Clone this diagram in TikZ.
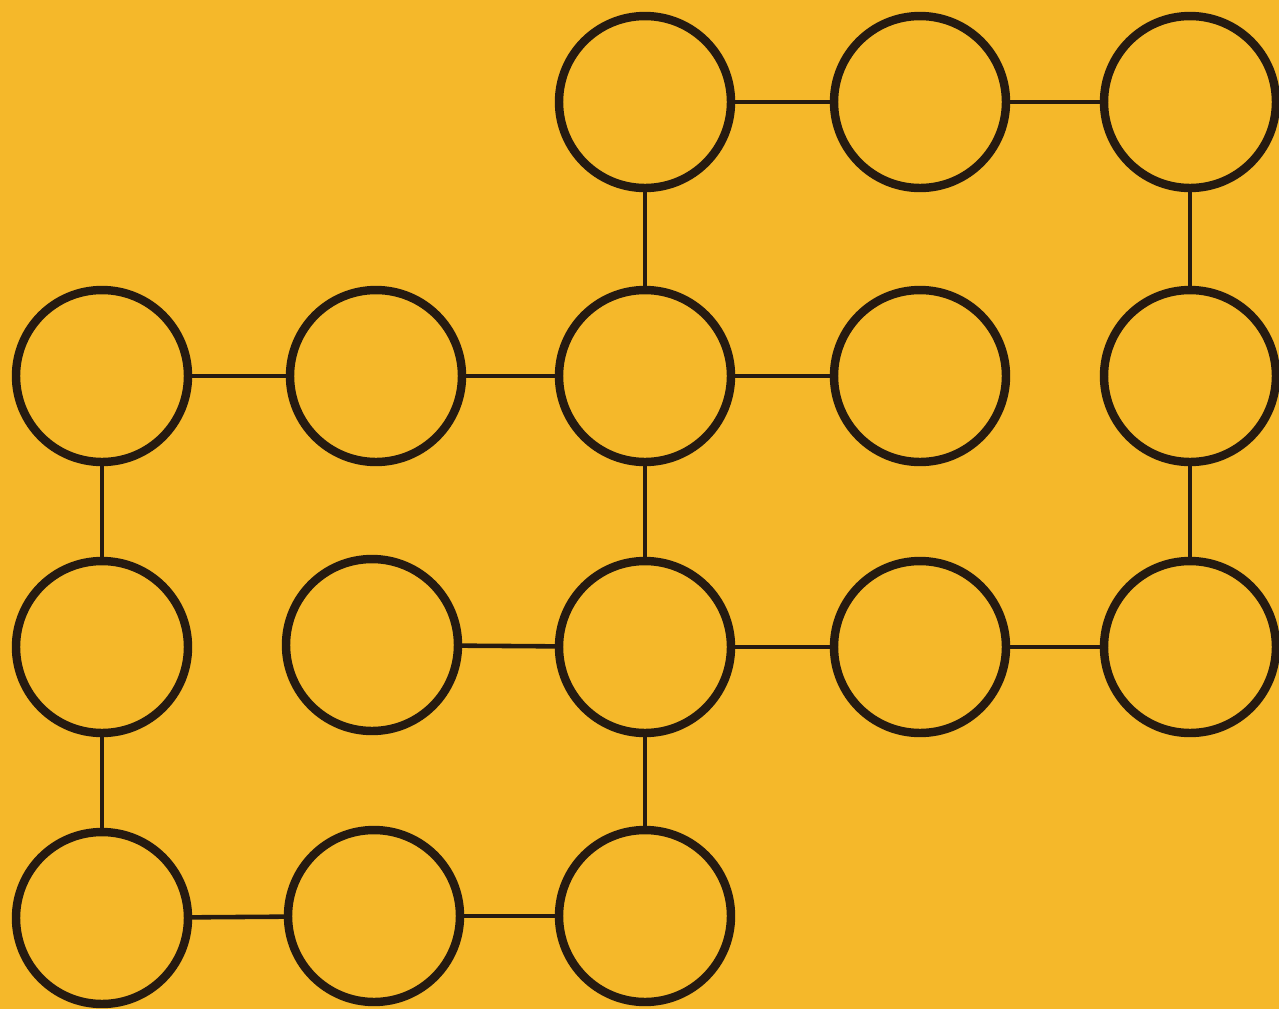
\documentclass[tikz,border=0pt]{standalone}
\usepackage{tikz}
\definecolor{bg}{RGB}{245,184,42}
\definecolor{ink}{RGB}{38,26,16}
\tikzset{
  ring/.style={circle, draw=ink, line width=4.8pt, minimum size=3.44cm, inner sep=0pt, fill=none},
  link/.style={draw=ink, line width=2.6pt}
}
\begin{document}
\begin{tikzpicture}[x=0.02cm, y=-0.02cm]
\fill[bg] (0,0) rectangle (1279,1009);
\useasboundingbox (0,0) rectangle (1279,1009);
% row 0
\node[ring] (c20) at (645,102) {};
\node[ring] (c30) at (920,102) {};
\node[ring] (c40) at (1190,102) {};
% row 1
\node[ring] (c01) at (102,376) {};
\node[ring] (c11) at (376,376) {};
\node[ring] (c21) at (645,376) {};
\node[ring] (c31) at (920,376) {};
\node[ring] (c41) at (1190,376) {};
% row 2
\node[ring] (c02) at (102,647) {};
\node[ring] (c12) at (372,645) {};
\node[ring] (c22) at (645,647) {};
\node[ring] (c32) at (920,647) {};
\node[ring] (c42) at (1190,647) {};
% row 3
\node[ring] (c03) at (102,918) {};
\node[ring] (c13) at (374,916) {};
\node[ring] (c23) at (645,916) {};
% edges
\draw[link] (c20) -- (c30);
\draw[link] (c30) -- (c40);
\draw[link] (c20) -- (c21);
\draw[link] (c40) -- (c41);
\draw[link] (c01) -- (c11);
\draw[link] (c11) -- (c21);
\draw[link] (c21) -- (c31);
\draw[link] (c01) -- (c02);
\draw[link] (c21) -- (c22);
\draw[link] (c41) -- (c42);
\draw[link] (c12) -- (c22);
\draw[link] (c22) -- (c32);
\draw[link] (c32) -- (c42);
\draw[link] (c02) -- (c03);
\draw[link] (c22) -- (c23);
\draw[link] (c03) -- (c13);
\draw[link] (c13) -- (c23);
\end{tikzpicture}
\end{document}
